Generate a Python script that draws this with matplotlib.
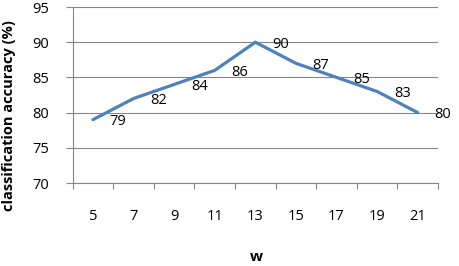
import matplotlib.pyplot as plt
import numpy as np

# window size w and resulting accuracy
w_values = [5, 7, 9, 11, 13, 15, 17, 19, 21]
accuracy = [79, 82, 84, 86, 90, 87, 85, 83, 80]
y_ticks = [70, 75, 80, 85, 90, 95]

plt.rcParams['font.family'] = ['Open Sans', 'DejaVu Sans']

fig = plt.figure(figsize=(4.6, 2.66), dpi=100)
ax = fig.add_axes((72.7 / 460, 1 - 183 / 266, (438 - 72.7) / 460, (183 - 7) / 266))

grid_color = '#868686'

ax.plot(w_values, accuracy, color='#4f81bd', linewidth=2.3,
        solid_joinstyle='round', solid_capstyle='round', zorder=3)

for x, y in zip(w_values, accuracy):
    ax.annotate(str(y), (x, y), xytext=(12, -1.5), textcoords='offset points',
                ha='left', va='center', fontsize=10.5, color='black')

ax.set_ylim(70, 95)
ax.set_yticks(y_ticks)
ax.set_yticklabels([str(v) for v in y_ticks], fontsize=10.5)
ax.yaxis.grid(True, color=grid_color, linewidth=0.8)
ax.tick_params(axis='y', length=5, width=0.8, color=grid_color, pad=12)

# categories: tick marks between labels, labels at the centres
ax.set_xlim(w_values[0] - 1, w_values[-1] + 1)
ax.set_xticks(np.arange(w_values[0] - 1, w_values[-1] + 2, 2))
ax.set_xticklabels([])
ax.set_xticks(w_values, minor=True)
ax.set_xticklabels([str(v) for v in w_values], minor=True, fontsize=10.5)
ax.tick_params(axis='x', which='major', length=4, width=0.8, color=grid_color)
ax.tick_params(axis='x', which='minor', length=0, pad=19)

for side in ['top', 'right']:
    ax.spines[side].set_visible(False)
for side in ['left', 'bottom']:
    ax.spines[side].set_color(grid_color)
    ax.spines[side].set_linewidth(0.8)
ax.set_axisbelow(True)

fig.text(256 / 460, 1 - 257 / 266, 'w', ha='center', va='center',
         fontsize=11, fontweight='bold')
fig.text(9 / 460, 1 - 116 / 266, 'classification accuracy (%)', rotation=90,
         ha='center', va='center', fontsize=10.5, fontweight='bold')

fig.savefig('out.png', dpi=100)
